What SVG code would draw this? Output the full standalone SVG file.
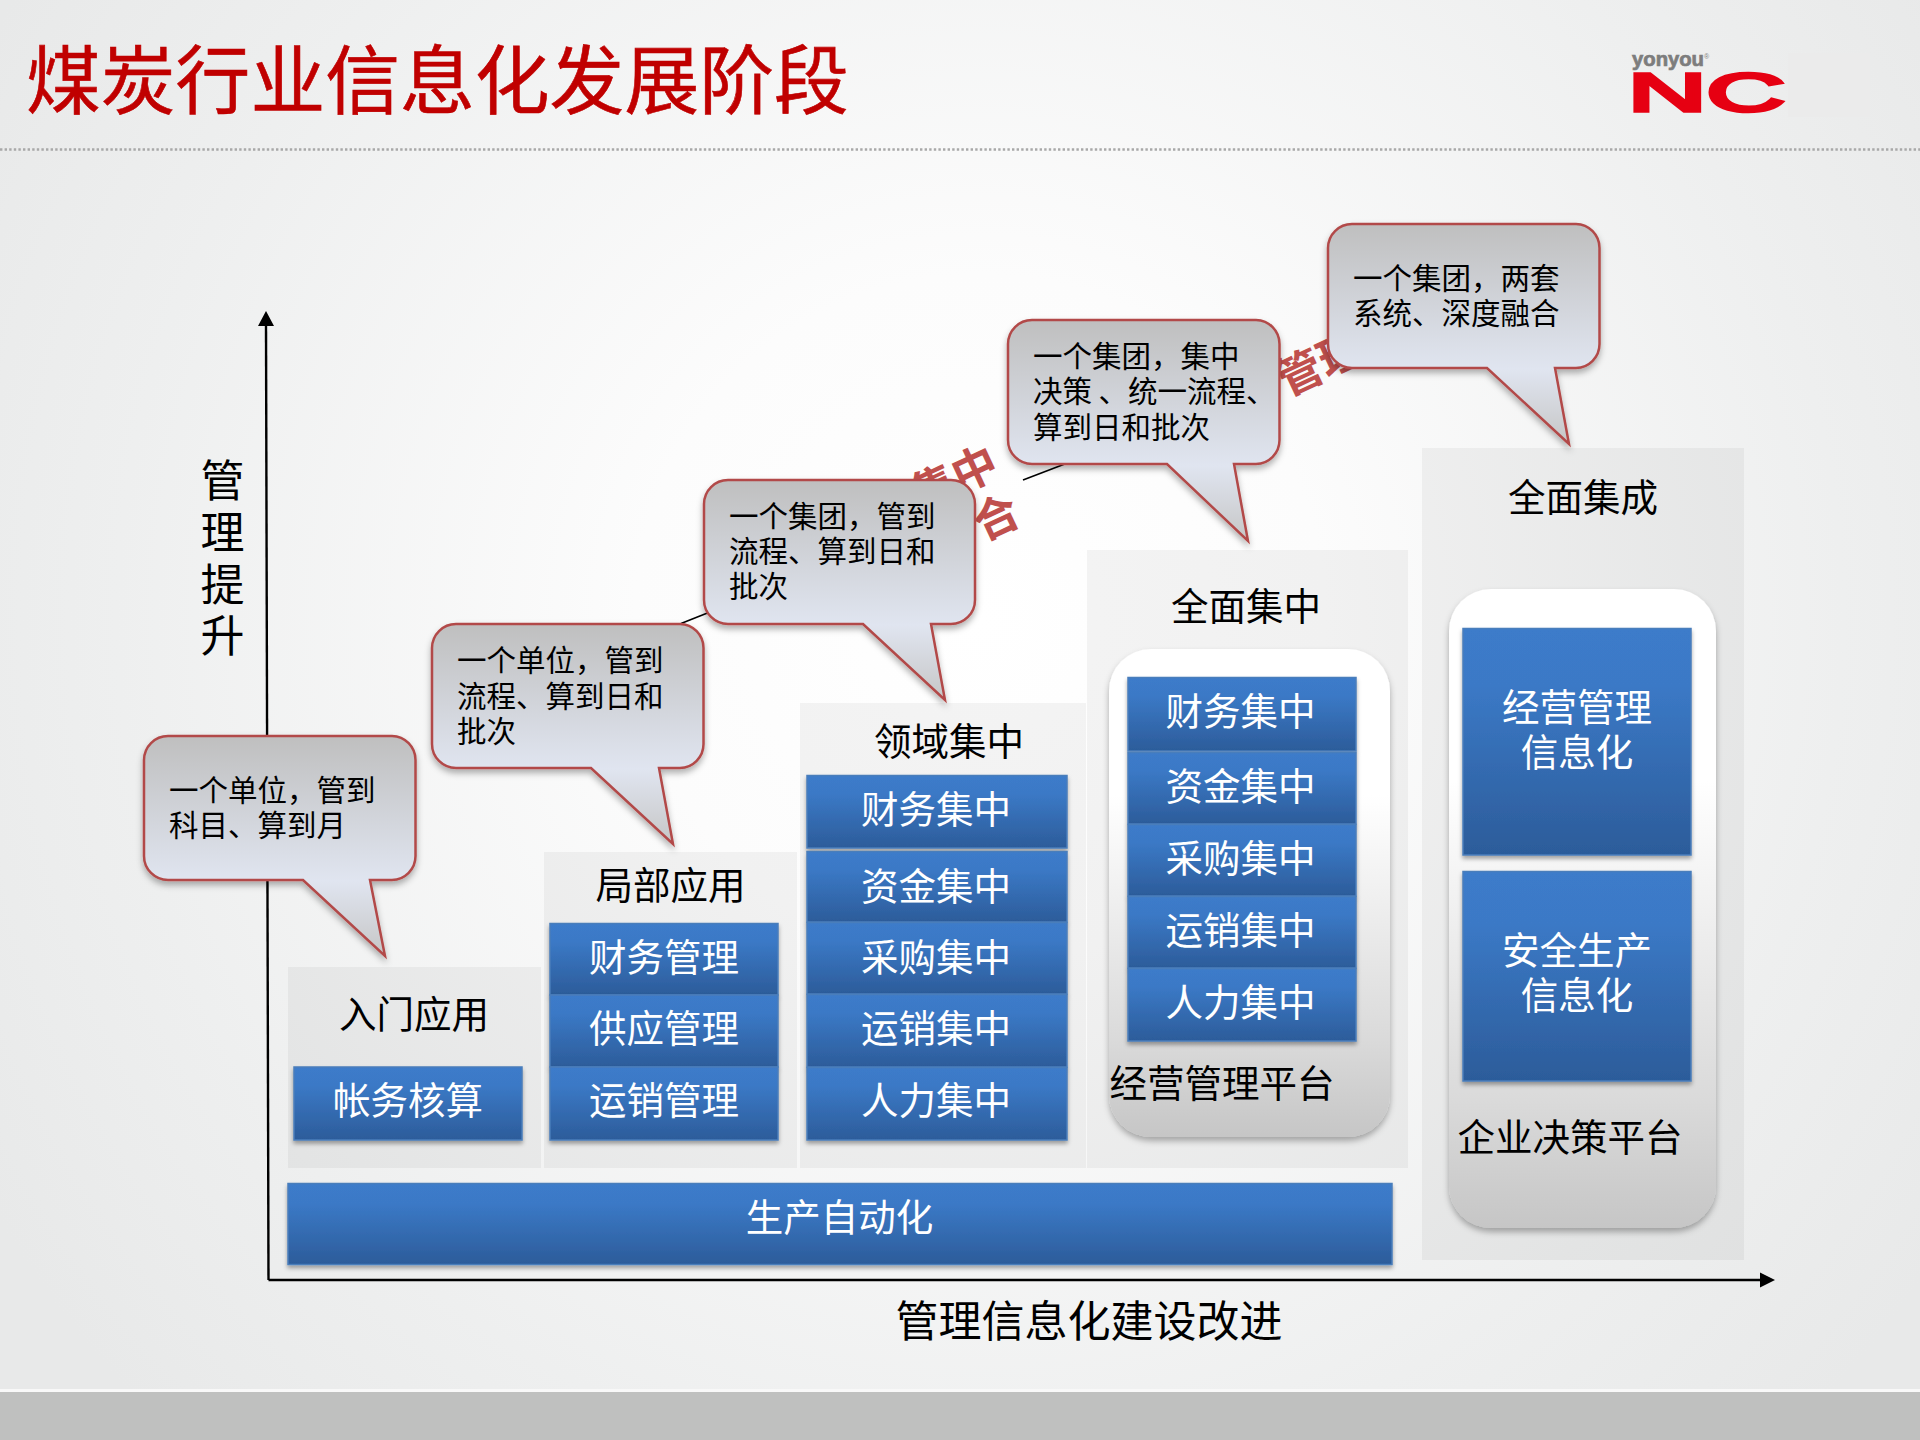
<svg xmlns="http://www.w3.org/2000/svg" width="1920" height="1440" viewBox="0 0 1920 1440">
<style>
text{font-family:"Noto Sans CJK SC","Liberation Sans",sans-serif}
.panel{fill:#000;fill-opacity:.045}
.bar{fill:url(#blue);stroke:#4a7ebb;stroke-width:1.5;filter:url(#sh)}
.round{fill:url(#roundg);filter:url(#sh2)}
.co{fill:url(#cog);stroke:#b24a48;stroke-width:2.5;stroke-linejoin:miter;filter:url(#sh2)}
.w{fill:#fff;font-size:37.5px;text-anchor:middle}
.k{fill:#000;font-size:37.5px;text-anchor:middle}
.c{fill:#000;font-size:29.5px}
.r{fill:#c0504d;font-size:45px;font-weight:700;text-anchor:middle}
.ax{stroke:#000;stroke-width:2.4;fill:none}
.logo{font-family:"Liberation Sans",sans-serif}
</style>
<defs>
<radialGradient id="bg" gradientUnits="userSpaceOnUse" cx="980" cy="620" r="1150">
<stop offset="0" stop-color="#fff"/><stop offset=".3" stop-color="#fcfcfc"/><stop offset=".75" stop-color="#eeefef"/><stop offset="1" stop-color="#e8e9e9"/>
</radialGradient>
<linearGradient id="blue" x1="0" y1="0" x2="0" y2="1"><stop offset="0" stop-color="#3c7bca"/><stop offset=".25" stop-color="#3b79c6"/><stop offset="1" stop-color="#2c5c9a"/></linearGradient>
<linearGradient id="roundg" x1="0" y1="0" x2="0" y2="1"><stop offset="0" stop-color="#fff"/><stop offset=".3" stop-color="#fff"/><stop offset=".8" stop-color="#dadada"/><stop offset="1" stop-color="#c6c6c6"/></linearGradient>
<linearGradient id="cog" x1="0" y1="0" x2="0" y2="1"><stop offset="0" stop-color="#bfbfbf"/><stop offset=".66" stop-color="#e0e5f0"/><stop offset="1" stop-color="#c6c6c6"/></linearGradient>
<filter id="sh" x="-5%" y="-5%" width="110%" height="125%"><feDropShadow dx="0" dy="3" stdDeviation="2" flood-color="#000" flood-opacity=".35"/></filter>
<filter id="sh2" x="-5%" y="-5%" width="110%" height="115%"><feDropShadow dx="0" dy="4" stdDeviation="3" flood-color="#000" flood-opacity=".3"/></filter>
</defs>

<g id="background">
<rect width="1920" height="1440" fill="url(#bg)"/>
<rect y="1389" width="1920" height="3" fill="#f8f8f8"/>
<rect y="1392" width="1920" height="48" fill="#bfc0bf"/>
<line x1="0" y1="149.5" x2="1920" y2="149.5" stroke="#a8a8a8" stroke-width="2.4" stroke-dasharray="2.4 2.2"/>
</g>

<text id="title" x="26" y="108" fill="#c00000" font-size="74.8" stroke="#c00000" stroke-width=".6">煤炭行业信息化发展阶段</text>

<g id="logo">
<rect x="1788" y="53" width="82" height="64" fill="#ebebeb"/>
<text class="logo" x="1632" y="66" fill="#7d7d7d" stroke="#7d7d7d" stroke-width=".7" font-size="20" font-weight="700" textLength="72" lengthAdjust="spacingAndGlyphs">yonyou</text>
<text class="logo" x="1704" y="59" fill="#808080" font-size="7">®</text>
<text class="logo" x="1628" y="111" fill="#e60012" stroke="#e60012" stroke-width="3.5" font-size="54" textLength="157" lengthAdjust="spacingAndGlyphs">NC</text>
</g>

<g id="panels">
<rect id="panel-entry" class="panel" x="288" y="967" width="253" height="201"/>
<rect id="panel-local" class="panel" x="544" y="852" width="253" height="316"/>
<rect id="panel-domain" class="panel" x="800" y="703" width="286" height="465"/>
<rect id="panel-central" class="panel" x="1087" y="550" width="321" height="618"/>
<rect id="panel-integrate" class="panel" x="1422" y="448" width="322" height="812"/>
</g>

<g id="connectors">
<line class="ax" x1="268.5" y1="1280" x2="266" y2="324"/>
<polygon points="266,311 258,326 274,326" fill="#000"/>
<line class="ax" x1="268.5" y1="1280" x2="1762" y2="1280"/>
<polygon points="1775,1280 1760,1272.5 1760,1287.5" fill="#000"/>
<line x1="681" y1="623.5" x2="720" y2="608" stroke="#000" stroke-width="1.6"/>
<line x1="1023" y1="480" x2="1070" y2="462" stroke="#000" stroke-width="1.6"/>
</g>

<text id="y-label" class="k" style="font-size:44px"><tspan x="222.5" y="497">管</tspan><tspan x="222.5" y="549">理</tspan><tspan x="222.5" y="600.5">提</tspan><tspan x="222.5" y="652">升</tspan></text>
<text id="x-label" class="k" x="1089" y="1337" style="font-size:43px">管理信息化建设改进</text>

<g id="red-labels">
<text class="r" transform="translate(961,493) rotate(-25)">集中</text>
<text class="r" transform="translate(1003,532) rotate(-25)">合</text>
<text class="r" transform="translate(1327,378) rotate(-25)">管理</text>
</g>

<g id="node-entry">
<text class="k" x="414" y="1028">入门应用</text>
<rect class="bar" x="294" y="1067" width="228" height="73"/>
<text class="w" x="408" y="1114">帐务核算</text>
</g>
<g id="node-local">
<text class="k" x="670.5" y="899">局部应用</text>
<rect class="bar" x="550" y="923.5" width="228" height="71.5"/>
<text class="w" x="664" y="971">财务管理</text>
<rect class="bar" x="550" y="995" width="228" height="72"/>
<text class="w" x="664" y="1042">供应管理</text>
<rect class="bar" x="550" y="1067" width="228" height="73"/>
<text class="w" x="664" y="1114">运销管理</text>
</g>
<g id="node-domain">
<text class="k" x="949" y="755">领域集中</text>
<rect class="bar" x="807" y="775.5" width="260" height="72.5"/>
<text class="w" x="936" y="823">财务集中</text>
<rect class="bar" x="807" y="851.5" width="260" height="70.5"/>
<text class="w" x="936" y="899.5">资金集中</text>
<rect class="bar" x="807" y="922.5" width="260" height="71.5"/>
<text class="w" x="936" y="971">采购集中</text>
<rect class="bar" x="807" y="994.5" width="260" height="72.5"/>
<text class="w" x="936" y="1042">运销集中</text>
<rect class="bar" x="807" y="1067.5" width="260" height="72.5"/>
<text class="w" x="936" y="1114">人力集中</text>
</g>
<g id="node-central">
<text class="k" x="1246" y="620">全面集中</text>
<rect class="round" x="1109" y="649" width="281" height="488" rx="42" ry="42"/>
<rect class="bar" x="1128" y="677.5" width="228" height="73.5"/>
<text class="w" x="1240.5" y="724.5">财务集中</text>
<rect class="bar" x="1128" y="752.5" width="228" height="71.5"/>
<text class="w" x="1240.5" y="800">资金集中</text>
<rect class="bar" x="1128" y="824.5" width="228" height="71.5"/>
<text class="w" x="1240.5" y="872">采购集中</text>
<rect class="bar" x="1128" y="896.5" width="228" height="71.5"/>
<text class="w" x="1240.5" y="944">运销集中</text>
<rect class="bar" x="1128" y="968.5" width="228" height="72.5"/>
<text class="w" x="1240.5" y="1016">人力集中</text>
<text class="k" x="1222" y="1097">经营管理平台</text>
</g>
<g id="node-integrate">
<text class="k" x="1583" y="511">全面集成</text>
<rect class="round" x="1449" y="589" width="267" height="639" rx="42" ry="42"/>
<rect class="bar" x="1463" y="628.5" width="228" height="226.5"/>
<text class="w"><tspan x="1577" y="721">经营管理</tspan><tspan x="1577" y="766">信息化</tspan></text>
<rect class="bar" x="1463" y="871.5" width="228" height="209.5"/>
<text class="w"><tspan x="1577" y="964">安全生产</tspan><tspan x="1577" y="1009">信息化</tspan></text>
<text class="k" x="1570" y="1151">企业决策平台</text>
</g>
<g id="node-production">
<rect class="bar" x="288" y="1183.5" width="1104" height="81"/>
<text class="w" x="839.5" y="1231">生产自动化</text>
</g>

<g id="callout-1">
<path class="co" d="M168,736H392A24,24 0 0 1 415.5,760V856A24,24 0 0 1 392,880H370L385,956L303,880H168A24,24 0 0 1 144,856V760A24,24 0 0 1 168,736Z"/>
<text class="c"><tspan x="169" y="801">一个单位，管到</tspan><tspan x="169" y="836">科目、算到月</tspan></text>
</g>
<g id="callout-2">
<path class="co" d="M456,624H680A24,24 0 0 1 703.5,648V744A24,24 0 0 1 680,768H659L673,844L591,768H456A24,24 0 0 1 432,744V648A24,24 0 0 1 456,624Z"/>
<text class="c"><tspan x="457" y="671">一个单位，管到</tspan><tspan x="457" y="706.5">流程、算到日和</tspan><tspan x="457" y="742">批次</tspan></text>
</g>
<g id="callout-3">
<path class="co" d="M728,480H951A24,24 0 0 1 975,504V600A24,24 0 0 1 951,624H931L945,700L863,624H728A24,24 0 0 1 704,600V504A24,24 0 0 1 728,480Z"/>
<text class="c"><tspan x="729" y="527">一个集团，管到</tspan><tspan x="729" y="562">流程、算到日和</tspan><tspan x="729" y="596.5">批次</tspan></text>
</g>
<g id="callout-4">
<path class="co" d="M1032,320H1256A24,24 0 0 1 1279.5,344V440A24,24 0 0 1 1256,464H1234L1248,541L1167,464H1032A24,24 0 0 1 1008,440V344A24,24 0 0 1 1032,320Z"/>
<text class="c"><tspan x="1033" y="367">一个集团，集中</tspan><tspan x="1033" y="402">决策 、统一流程、</tspan><tspan x="1033" y="437.5">算到日和批次</tspan></text>
</g>
<g id="callout-5">
<path class="co" d="M1352,224H1576A24,24 0 0 1 1599.5,248V344A24,24 0 0 1 1576,368H1555L1569,444L1487,368H1352A24,24 0 0 1 1328,344V248A24,24 0 0 1 1352,224Z"/>
<text class="c"><tspan x="1353" y="289">一个集团，两套</tspan><tspan x="1353" y="324">系统、深度融合</tspan></text>
</g>
</svg>
